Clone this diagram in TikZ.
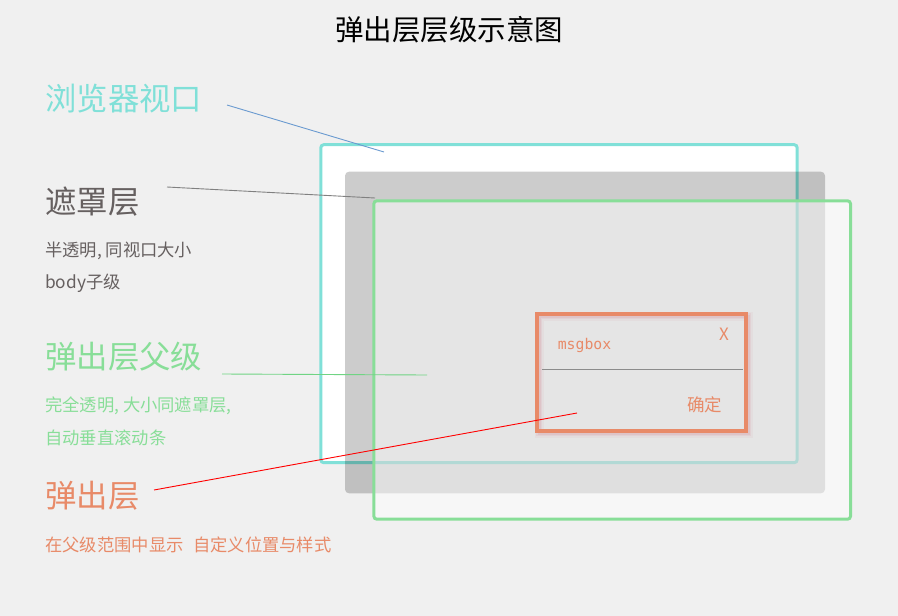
\documentclass[tikz,border=0pt]{standalone}
\usepackage{fontspec}
\setmainfont{Noto Sans CJK SC}
\newfontfamily\monofont{DejaVu Sans Mono}
\usepackage{xcolor}
\usepackage{tikz}
\usetikzlibrary{positioning}
\definecolor{pagebg}{HTML}{F0F0F0}
\definecolor{viewcyan}{HTML}{80E0D8}
\definecolor{parentgreen}{HTML}{88DE98}
\definecolor{parentline}{HTML}{70D484}
\definecolor{popuporange}{HTML}{E88A68}
\definecolor{shadowpink}{HTML}{D9A0A8}
\definecolor{maskgray}{HTML}{666060}
\definecolor{viewline}{HTML}{6A9AD0}
\tikzset{
  layerbox/.style   = {rectangle, inner sep=0pt, outer sep=0pt},
  viewbox/.style    = {layerbox, draw=viewcyan, fill=white, line width=3pt,
                       rounded corners=3pt},
  maskbox/.style    = {layerbox, fill=black, fill opacity=0.2, rounded corners=4pt},
  parentbox/.style  = {layerbox, draw=parentgreen, line width=3pt, rounded corners=3pt,
                       fill=white, fill opacity=0.5, draw opacity=1},
  popupbox/.style   = {layerbox, draw=popuporange, line width=3.6pt},
  bigtag/.style     = {anchor=west, inner sep=0pt, font=\fontsize{31.4}{33}\selectfont},
  smalltag/.style   = {anchor=west, inner sep=0pt, font=\fontsize{17.3}{19}\selectfont},
  popuptext/.style  = {inner sep=0pt, text=popuporange},
  tagline/.style    = {line width=0.9pt},
}

\begin{document}
\begin{tikzpicture}[x=1pt,y=-1pt]
  \useasboundingbox[fill=pagebg] (0,0) rectangle (898,616);

  % title
  \node[inner sep=0pt, font=\fontsize{28.5}{30}\selectfont] (title) at (449,29.5) {弹出层层级示意图};

  % layers, back to front
  \node[viewbox, minimum width=476.4pt, minimum height=318pt] (view) at (559,303.7) {};
  \node[maskbox, minimum width=480pt, minimum height=321.6pt] (mask) at (585,332.5) {};
  \node[parentbox, minimum width=476.7pt, minimum height=318.4pt] (parent) at (612.2,360) {};

  % popup with its soft shadow
  \foreach \s/\o in {4.5/0.10, 3/0.18, 1.5/0.25}
    \draw[shadowpink, opacity=\o, line width=2*\s pt] (539,316) rectangle (748,433);
  \node[popupbox, minimum width=209pt, minimum height=117pt] (popup) at (641.5,372.5) {};
  \draw[gray!90, line width=1pt] (542,369) -- (743,369);
  \node[popuptext, font=\monofont\fontsize{14.8}{16}\selectfont] (title-msg) at (584.5,345) {msgbox};
  \node[popuptext, font=\fontsize{17}{18}\selectfont] (close) at (724,334) {X};
  \node[popuptext, font=\fontsize{17.5}{18}\selectfont] (ok) at (704.5,405) {确定};

  % labels on the left
  \node[bigtag, text=viewcyan] (viewtag) at (45,99) {浏览器视口};
  \node[bigtag, text=maskgray] (masktag) at (45,202) {遮罩层};
  \node[smalltag, text=maskgray] (maskinfo1) at (45,251) {半透明, 同视口大小};
  \node[smalltag, text=maskgray] (maskinfo2) at (45,283) {body子级};
  \node[bigtag, text=parentgreen] (parenttag) at (45,357) {弹出层父级};
  \node[smalltag, text=parentgreen] (parentinfo1) at (45,406) {完全透明, 大小同遮罩层,};
  \node[smalltag, text=parentgreen] (parentinfo2) at (45,438) {自动垂直滚动条};
  \node[bigtag, text=popuporange] (popuptag) at (45,496) {弹出层};
  \node[smalltag, text=popuporange] (popupinfo) at (45,545) {在父级范围中显示\hspace{0.55em}自定义位置与样式};

  % pointer lines
  \coordinate (viewfrom)   at (227,105);
  \coordinate (viewto)     at (384,152);
  \coordinate (maskfrom)   at (167,187);
  \coordinate (maskto)     at (375,198);
  \coordinate (parentfrom) at (222,374);
  \coordinate (parentto)   at (427,375);
  \coordinate (popupfrom)  at (154,490);
  \coordinate (popupto)    at (577,413);
  \draw[tagline, viewline]    (viewfrom) -- (viewto);
  \draw[tagline, gray]        (maskfrom) -- (maskto);
  \draw[tagline, parentline]  (parentfrom) -- (parentto);
  \draw[tagline, red]         (popupfrom) -- (popupto);
\end{tikzpicture}
\end{document}
